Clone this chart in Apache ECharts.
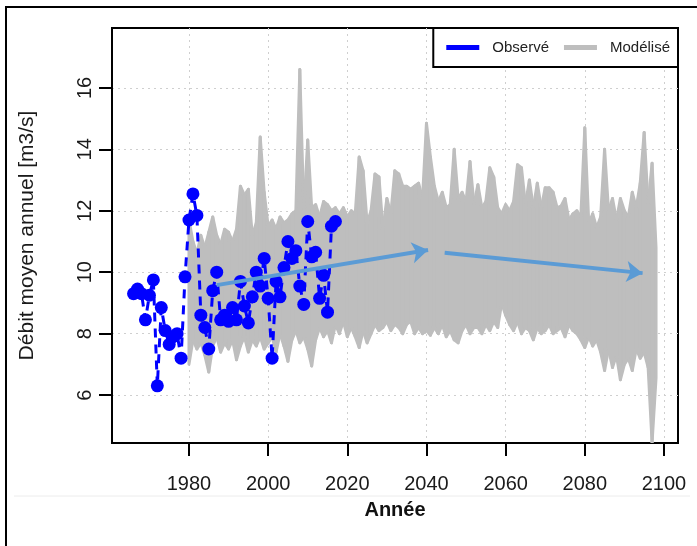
<!DOCTYPE html>
<html>
<head>
<meta charset="utf-8">
<script src="https://cdn.jsdelivr.net/npm/echarts@6/dist/echarts.min.js"></script>
<style>
  html, body { margin: 0; padding: 0; background: #fff; }
  #chart { width: 697px; height: 546px; }
</style>
</head>
<body>
<div id="chart"></div>
<script>
// observed annual mean flow, one value per year from 1966
const obsStart = 1966;
const obsValues = [
  9.3, 9.45, 9.3, 8.45, 9.25, 9.75, 6.3, 8.85, 8.1, 7.65,     // 1966-1975
  7.9, 8.0, 7.2, 9.85, 11.7, 12.55, 11.85, 8.6, 8.2, 7.5,     // 1976-1985
  9.4, 10.0, 8.45, 8.6, 8.4, 8.85, 8.45, 9.7, 8.9, 8.35,      // 1986-1995
  9.2, 10.0, 9.55, 10.45, 9.15, 7.2, 9.7, 9.2, 10.15, 11.0,   // 1996-2005
  10.45, 10.7, 9.55, 8.95, 11.65, 10.5, 10.65, 9.15, 9.9, 8.7, // 2006-2015
  11.5, 11.65                                                  // 2016-2017
];

// modelled runs: upper and lower edge of the bundle, one value per year from 1980
const modelStart = 1980;
const modelHigh = [
  11.7, 11.0, 10.6, 11.2, 10.8, 11.3, 11.8, 11.2, 10.9, 11.4,
  11.3, 11.0, 11.4, 12.8, 12.5, 12.7, 11.2, 11.6, 14.4, 12.6,
  11.5, 11.7, 11.4, 11.8, 11.6, 11.7, 11.9, 12.0, 16.6, 12.0,
  14.3, 12.1, 12.2, 11.8, 12.3, 12.2, 12.0, 12.1, 11.9, 12.1,
  11.8, 12.0, 11.9, 13.75, 13.3, 11.6, 12.0, 13.2, 13.1, 11.4,
  12.4, 11.9, 13.3, 13.2, 12.8, 12.8, 12.7, 12.8, 12.9, 12.4,
  14.85, 13.75, 12.8, 12.3, 12.6, 12.1, 12.2, 14.0, 12.4, 12.6,
  12.3, 13.6, 12.2, 12.85, 12.1, 12.3, 13.4, 13.1, 12.1, 11.9,
  12.2, 12.0, 12.3, 13.5, 13.4, 12.2, 13.0, 12.1, 12.9, 12.1,
  12.75, 12.75, 12.6, 12.1, 12.15, 12.4, 11.7, 11.9, 12.0, 11.8,
  14.7, 11.6, 11.9, 11.45, 11.8, 14.0, 12.0, 12.4, 11.7, 12.4,
  12.0, 11.8, 12.6, 12.1, 12.9, 14.55, 12.2, 13.55, 10.8
];
const modelLow = [
  7.0, 7.8, 7.5, 7.7, 7.3, 6.75, 7.6, 7.9, 7.4, 7.7,
  7.5, 7.8, 7.15, 7.6, 7.9, 7.4, 7.8, 7.6, 7.9, 7.5,
  7.7, 7.9, 7.4, 8.0, 7.6, 7.1, 7.8, 8.1, 7.7, 7.9,
  7.5, 6.95, 7.8, 8.2, 7.9, 8.1, 7.7, 8.3, 8.0, 8.4,
  7.9, 8.2, 7.9, 7.55, 8.1, 7.7, 8.0, 8.3, 8.1, 8.2,
  8.4, 8.1, 8.3, 8.2, 8.0, 8.3, 8.4, 8.0, 8.2, 8.0,
  8.1, 7.95, 8.2, 8.0, 8.3, 7.9, 8.1, 7.8, 7.7, 8.1,
  8.3, 8.0, 8.2, 8.2, 8.0, 8.3, 8.1, 8.4, 8.2, 9.0,
  8.6, 8.3, 8.1, 8.4, 8.0, 8.2, 8.1, 7.8, 8.2, 8.0,
  8.1, 8.3, 8.0, 8.1, 8.2, 7.9, 8.3, 8.1, 8.0, 7.8,
  7.55, 7.9, 7.6, 7.8, 7.4, 6.8, 7.5, 6.9, 7.3, 6.5,
  7.0, 7.2, 6.8, 7.5, 7.2, 7.4, 6.9, 4.45, 6.55
];

// trend arrows drawn on the figure
const trendRise = [[1987, 9.58], [2040.4, 10.72]];
const trendFall = [[2044.6, 10.63], [2094.6, 9.97]];

const xTicks = [1980, 2000, 2020, 2040, 2060, 2080, 2100];
const yTicks = [6, 8, 10, 12, 14, 16];

const BLUE = '#0000ff';
const GRAY = '#bebebe';
const ARROW = '#5b9bd5';
const FONT = '"Liberation Sans", Arial, sans-serif';

let obsData = obsValues.map(function (v, i) { return [obsStart + i, v]; });

// one segment per pair of consecutive years: [x0, low0, high0, x1, low1, high1]
let bandData = [];
for (let i = 0; i < modelHigh.length - 1; i++) {
  bandData.push([modelStart + i, modelLow[i], modelHigh[i],
                 modelStart + i + 1, modelLow[i + 1], modelHigh[i + 1]]);
}

const chart = echarts.init(document.getElementById('chart'), null, { renderer: 'canvas' });

chart.setOption({
  backgroundColor: '#fff',
  animation: false,
  textStyle: { fontFamily: FONT },
  graphic: [
    { type: 'rect', z: 100, silent: true,
      shape: { x: 6, y: 7, width: 800, height: 700 },
      style: { fill: 'none', stroke: '#000', lineWidth: 2 } },
    { type: 'line', silent: true,
      shape: { x1: 14, y1: 496, x2: 690, y2: 496 },
      style: { stroke: '#ececec', lineWidth: 1 } }
  ],
  legend: {
    right: 19,
    top: 28,
    icon: 'rect',
    itemWidth: 33,
    itemHeight: 5,
    itemGap: 15,
    padding: [12, 8, 12, 13],
    borderColor: '#000',
    borderWidth: 2,
    backgroundColor: '#fff',
    textStyle: { fontSize: 15, color: '#222', fontFamily: FONT, padding: [0, 0, 0, 8] },
    data: ['Observé', 'Modélisé']
  },
  grid: {
    left: 112, top: 28, right: 19, bottom: 103,
    show: true, borderColor: '#000', borderWidth: 2
  },
  xAxis: {
    type: 'value',
    min: 1960.55, max: 2103.55,
    name: 'Année',
    nameLocation: 'middle',
    nameGap: 57,
    nameTextStyle: { fontSize: 20, fontWeight: 'bold', color: '#111', fontFamily: FONT },
    axisLine: { show: true, lineStyle: { color: '#000', width: 2 } },
    axisTick: { show: true, length: 13, lineStyle: { color: '#000', width: 2 }, customValues: xTicks },
    axisLabel: {
      fontSize: 20, color: '#1a1a1a', margin: 31, customValues: xTicks,
      formatter: function (v) { return String(v); }
    },
    splitLine: { show: true, lineStyle: { color: '#cfcfcf', type: [2, 4], width: 1 } }
  },
  yAxis: {
    type: 'value',
    min: 4.44, max: 17.95,
    name: 'Débit moyen annuel [m3/s]',
    nameLocation: 'middle',
    nameGap: 74,
    nameTextStyle: { fontSize: 21, color: '#1a1a1a', fontFamily: FONT },
    axisLine: { show: true, lineStyle: { color: '#000', width: 2 } },
    axisTick: { show: true, length: 13, lineStyle: { color: '#000', width: 2 }, customValues: yTicks },
    axisLabel: { fontSize: 20, color: '#1a1a1a', margin: 17, rotate: 90, customValues: yTicks },
    splitLine: { show: true, lineStyle: { color: '#cfcfcf', type: [2, 4], width: 1 } }
  },
  series: [
    {
      name: 'Modélisé',
      type: 'custom',
      z: 2,
      clip: true,
      itemStyle: { color: GRAY },
      encode: { x: [0, 3], y: [1, 2, 4, 5] },
      data: bandData,
      renderItem: function (params, api) {
        const a = api.coord([api.value(0), api.value(1)]);
        const b = api.coord([api.value(0), api.value(2)]);
        const c = api.coord([api.value(3), api.value(5)]);
        const d = api.coord([api.value(3), api.value(4)]);
        return {
          type: 'polygon',
          shape: { points: [a, b, c, d] },
          style: { fill: GRAY, stroke: GRAY, lineWidth: 3, lineJoin: 'round' }
        };
      }
    },
    {
      name: 'Observé',
      type: 'line',
      z: 3,
      data: obsData,
      symbol: 'circle',
      symbolSize: 13,
      showAllSymbol: true,
      itemStyle: { color: BLUE },
      lineStyle: { color: BLUE, width: 3, type: [9, 7] }
    },
    {
      name: 'Tendance',
      type: 'lines',
      coordinateSystem: 'cartesian2d',
      z: 4,
      symbol: ['none', 'arrow'],
      symbolSize: 16,
      lineStyle: { color: ARROW, width: 4, opacity: 1 },
      data: [{ coords: trendRise }, { coords: trendFall }]
    }
  ]
});
</script>
</body>
</html>
